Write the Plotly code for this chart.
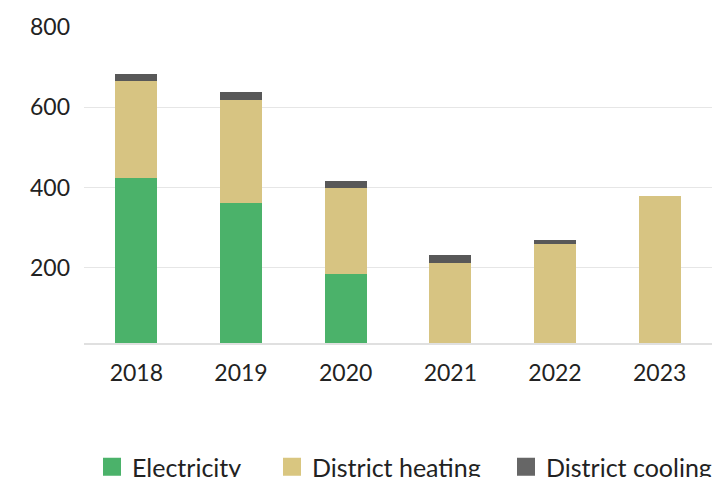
import plotly.graph_objects as go

# Energy use by source, stacked per year
years = ["2018", "2019", "2020", "2021", "2022", "2023"]
electricity = [425, 361, 185, 0, 0, 0]
district_heating = [240, 258, 213, 213, 260, 380]
district_cooling = [19, 18, 19, 19, 10, 0]

y_ticks = [200, 400, 600, 800]

series = [
    ("Electricity", electricity, "#4bb26a", "#4bb26a"),
    ("District heating", district_heating, "#d7c482", "#d9c680"),
    ("District cooling", district_cooling, "#585858", "#666666"),
]

FONT = "Lato, 'Open Sans', sans-serif"
TICK_FONT = dict(family=FONT, size=23, color="#222222")
LEGEND_FONT = dict(family=FONT, size=25, color="#222222")

fig = go.Figure()
for name, vals, color, _ in series:
    fig.add_trace(go.Bar(
        x=years, y=vals, name=name, showlegend=False,
        marker=dict(color=color, line=dict(width=0)),
    ))

# one legend box per series so each entry sits at its own x position
legend_ids = ["legend", "legend2", "legend3"]
legend_x_px = [92, 272, 506]
for (name, _, _, legend_color), lid in zip(series, legend_ids):
    fig.add_trace(go.Scatter(
        x=[None], y=[None], mode="markers", name=name, legend=lid,
        marker=dict(symbol="square", size=16, color=legend_color,
                    line=dict(width=2, color=legend_color)),
    ))

legend_common = dict(
    orientation="h", xref="container", yref="container",
    xanchor="left", yanchor="middle", y=(477 - 467) / 477,
    font=LEGEND_FONT, itemsizing="trace", bgcolor="rgba(0,0,0,0)",
)

fig.update_layout(
    width=715, height=477,
    barmode="stack", bargap=0.6,
    plot_bgcolor="white", paper_bgcolor="white",
    margin=dict(l=84, r=3, t=26.5, b=133.7, autoexpand=False),
    font=dict(family=FONT, size=20, color="#222222"),
    legend=dict(x=legend_x_px[0] / 715, **legend_common),
    legend2=dict(x=legend_x_px[1] / 715, **legend_common),
    legend3=dict(x=legend_x_px[2] / 715, **legend_common),
    xaxis=dict(
        type="category", showline=True, linecolor="#e0e0e0", linewidth=2,
        ticks="", showgrid=False, ticklabelstandoff=8,
        tickfont=TICK_FONT,
    ),
    yaxis=dict(
        range=[13, 800], tickvals=y_ticks, showgrid=True,
        gridcolor="#e6e6e6", gridwidth=1, zeroline=False, showline=False,
        ticks="", ticklabelstandoff=13,
        tickfont=TICK_FONT,
    ),
)

fig.write_html("out.html")
